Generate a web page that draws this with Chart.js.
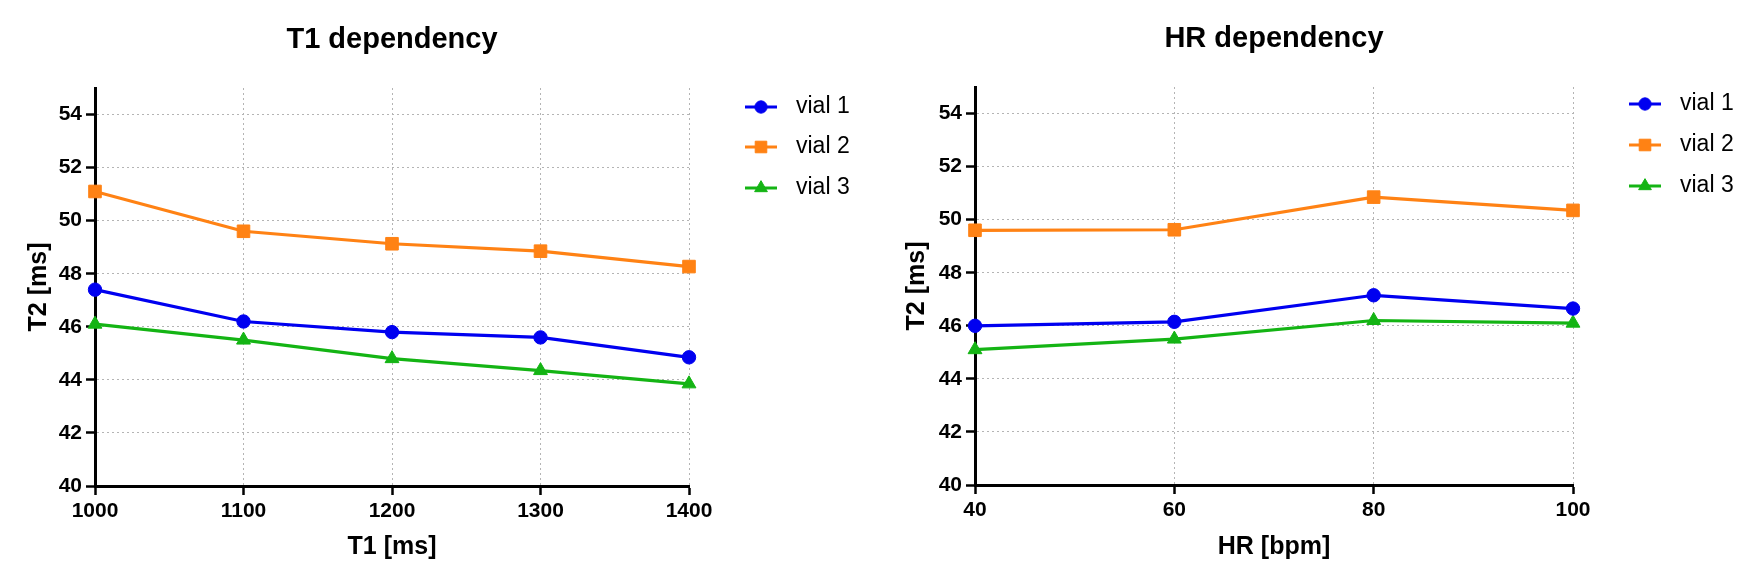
<!DOCTYPE html>
<html><head><meta charset="utf-8">
<script src="https://cdn.jsdelivr.net/npm/chart.js@4.4.1/dist/chart.umd.min.js"></script>
<style>
html,body{margin:0;padding:0;background:#fff;}
#wrap{position:relative;width:1755px;height:583px;overflow:hidden;background:#fff;}
canvas{position:absolute;top:0;}
</style></head><body>
<div id="wrap">
<canvas id="c1" width="877" height="583" style="left:0px"></canvas>
<canvas id="c2" width="878" height="583" style="left:877px"></canvas>
</div>
<script>
// ---- data ----
const seriesNames = ['vial 1', 'vial 2', 'vial 3'];
const t1Values = [1000, 1100, 1200, 1300, 1400];
const t1Vial1 = [47.4, 46.2, 45.8, 45.6, 44.85];
const t1Vial2 = [51.1, 49.6, 49.13, 48.85, 48.27];
const t1Vial3 = [46.1, 45.5, 44.8, 44.35, 43.85];
const hrValues = [40, 60, 80, 100];
const hrVial1 = [46.0, 46.15, 47.15, 46.65];
const hrVial2 = [49.6, 49.62, 50.85, 50.35];
const hrVial3 = [45.1, 45.5, 46.2, 46.1];
const t1Ticks = [1000, 1100, 1200, 1300, 1400];
const hrTicks = [40, 60, 80, 100];
const yTicks = [40, 42, 44, 46, 48, 50, 52, 54];
const yMin = 40, yMax = 55;

// ---- styles ----
const FONT = '"Liberation Sans", Arial, Helvetica, sans-serif';
Chart.defaults.font.family = FONT;
const colors = ['#0000f0', '#ff8214', '#14b414'];
const pointStyles = ['circle', 'rect', 'triangle'];
const pointRadii = [6.7, 8.9, 8];
const GRID = '#b4b4b4';

const legendPlugin = {
  id: 'sideLegend',
  afterDraw(chart, args, opts) {
    const {ctx, chartArea} = chart;
    chart.data.datasets.forEach((ds, i) => {
      const x0 = chartArea.right + opts.dx;
      const y = chartArea.top + opts.rows[i];
      ctx.save();
      ctx.strokeStyle = ds.borderColor; ctx.lineWidth = 3;
      ctx.beginPath(); ctx.moveTo(x0, y); ctx.lineTo(x0 + 32, y); ctx.stroke();
      ctx.fillStyle = ds.backgroundColor; ctx.strokeStyle = ds.borderColor; ctx.lineWidth = 1;
      Chart.helpers.drawPoint(ctx, {pointStyle: ds.pointStyle, radius: ds.pointRadius * 0.92, rotation: 0, borderWidth: 1}, x0 + 16, y);
      ctx.fillStyle = '#000';
      ctx.font = '23px ' + FONT;
      ctx.textBaseline = 'middle'; ctx.textAlign = 'left';
      ctx.fillText(ds.label, x0 + opts.tx, y);
      ctx.restore();
    });
  }
};

function makeChart(id, p) {
  return new Chart(document.getElementById(id), {
    type: 'line',
    data: {
      datasets: p.series.map((vals, i) => ({
        label: seriesNames[i],
        data: p.x.map((xv, j) => ({x: xv, y: vals[j]})),
        borderColor: colors[i], backgroundColor: colors[i],
        pointStyle: pointStyles[i], pointRadius: pointRadii[i], pointHoverRadius: pointRadii[i],
        pointBorderWidth: 1, borderWidth: 3.2, clip: false, tension: 0, fill: false
      }))
    },
    options: {
      responsive: false, animation: false, devicePixelRatio: 1,
      layout: {padding: {left: 0, top: 0, bottom: 0, right: p.padRight}},
      plugins: {
        legend: {display: false}, tooltip: {enabled: false},
        title: {display: true, text: p.title, fullSize: false, color: '#000',
          font: {family: FONT, size: 29, weight: 'bold'},
          padding: {top: p.titleTop, bottom: p.titleBottom}},
        sideLegend: {dx: 56, tx: 51, rows: p.rows}
      },
      scales: {
        x: {
          type: 'linear', min: p.xTicks[0], max: p.xTicks[p.xTicks.length - 1],
          afterBuildTicks: s => { s.ticks = p.xTicks.map(v => ({value: v})); },
          afterFit: s => { s.height = p.xAxisH; },
          ticks: {color: '#000', font: {size: 21, weight: 'bold'}, padding: 4, maxRotation: 0, autoSkip: false,
            callback: v => String(v)},
          grid: {color: c => (c.tick && c.tick.value === p.xTicks[0]) ? 'rgba(0,0,0,0)' : GRID,
            lineWidth: 1, tickLength: 9, tickColor: '#000', tickWidth: 2.5, tickBorderDash: []},
          border: {display: true, color: '#000', width: 3, dash: [2, 3]},
          title: {display: true, text: p.xTitle, color: '#000', font: {size: 25, weight: 'bold'}, padding: {top: 0, bottom: 21}}
        },
        y: {
          type: 'linear', min: yMin, max: yMax,
          afterBuildTicks: s => { s.ticks = yTicks.map(v => ({value: v})); },
          afterFit: s => { s.width = p.yAxisW; },
          ticks: {color: '#000', font: {size: 21, weight: 'bold'}, padding: 4, autoSkip: false,
            callback: v => String(v)},
          grid: {color: c => (c.tick && c.tick.value === yMin) ? 'rgba(0,0,0,0)' : GRID,
            lineWidth: 1, tickLength: 9, tickColor: '#000', tickWidth: 2.5, tickBorderDash: []},
          border: {display: true, color: '#000', width: 3, dash: [2, 3]},
          title: {display: true, text: 'T2 [ms]', color: '#000', font: {size: 25, weight: 'bold'}, padding: {top: p.yTitlePad, bottom: 0}}
        }
      }
    },
    plugins: [legendPlugin]
  });
}

makeChart('c1', {
  title: 'T1 dependency', xTitle: 'T1 [ms]', x: t1Values, xTicks: t1Ticks,
  series: [t1Vial1, t1Vial2, t1Vial3],
  padRight: 188, yAxisW: 95, xAxisH: 97, titleTop: 22.6, titleBottom: 30.6, yTitlePad: 24,
  rows: [19, 59, 100]
});
makeChart('c2', {
  title: 'HR dependency', xTitle: 'HR [bpm]', x: hrValues, xTicks: hrTicks,
  series: [hrVial1, hrVial2, hrVial3],
  padRight: 182, yAxisW: 98, xAxisH: 98, titleTop: 21.6, titleBottom: 30.6, yTitlePad: 25,
  rows: [17, 58, 99]
});
</script>
</body></html>
